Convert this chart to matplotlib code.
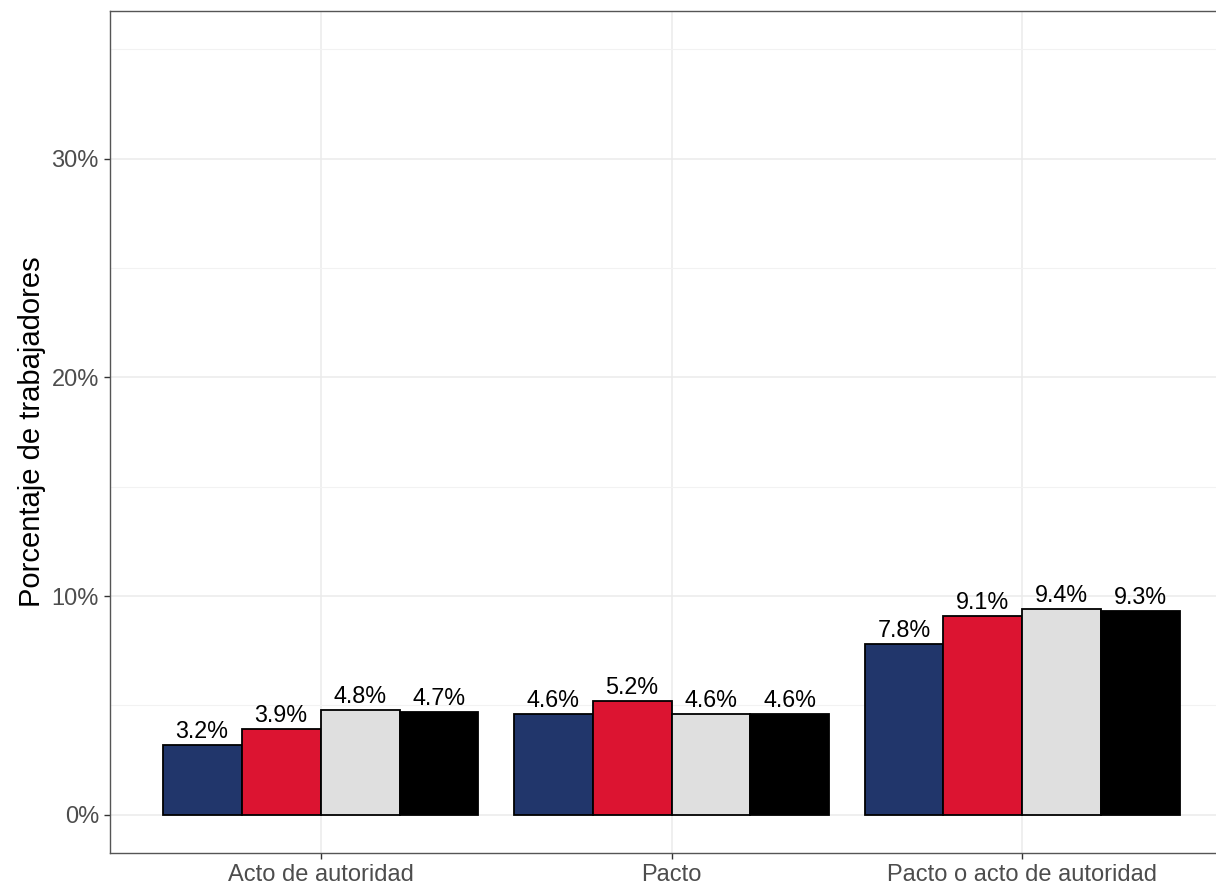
import numpy as np
import matplotlib.pyplot as plt

plt.rcParams['font.family'] = ['Liberation Sans', 'DejaVu Sans']

categorias = ['Acto de autoridad', 'Pacto', 'Pacto o acto de autoridad']
serie_1 = [3.2, 4.6, 7.8]
serie_2 = [3.9, 5.2, 9.1]
serie_3 = [4.8, 4.6, 9.4]
serie_4 = [4.7, 4.6, 9.3]
colores = ['#21366B', '#DC1431', '#DFDFDF', '#000000']

series = [serie_1, serie_2, serie_3, serie_4]

fig = plt.figure(figsize=(12.16, 8.88), dpi=100)
# panel runs a bit past the right edge, like the original export
ax = fig.add_axes([110 / 1216, 1 - 853 / 888, 1123 / 1216, (853 - 11) / 888])

x = np.arange(len(categorias))
ancho = 0.9 / 4
for i, (vals, col) in enumerate(zip(series, colores)):
    pos = x - 0.45 + ancho * (i + 0.5)
    ax.bar(pos, vals, width=ancho, color=col, edgecolor='black', linewidth=1.3, zorder=3)
    for p, v in zip(pos, vals):
        ax.text(p, v + 0.1, f'{v:.1f}%', ha='center', va='bottom', fontsize=16.8, color='black', zorder=4)

ax.set_xlim(-0.6, 2.6)
ax.set_ylim(-1.75, 36.75)
ax.set_xticks(x)
ax.set_xticklabels(categorias)
ax.set_yticks([0, 10, 20, 30])
ax.set_yticklabels(['0%', '10%', '20%', '30%'])
ax.set_yticks([5, 15, 25, 35], minor=True)
ax.tick_params(axis='both', which='major', labelsize=17, labelcolor='#4D4D4D', color='#333333', length=4, width=1, pad=4)
ax.tick_params(axis='y', which='minor', length=0)
ax.grid(which='major', color='#EBEBEB', linewidth=1.1, zorder=0)
ax.grid(which='minor', axis='y', color='#F2F2F2', linewidth=0.8, zorder=0)
ax.set_axisbelow(True)
for s in ax.spines.values():
    s.set_color('#555555')
    s.set_linewidth(1)
ax.set_ylabel('Porcentaje de trabajadores', fontsize=21, color='black', labelpad=4)

fig.savefig('out.png', dpi=100)
